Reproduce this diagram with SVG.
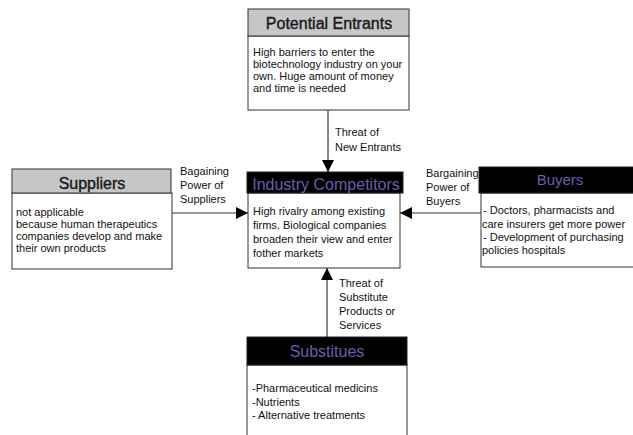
<svg xmlns="http://www.w3.org/2000/svg" width="633" height="435" viewBox="0 0 633 435">
<style>
text{font-family:"Liberation Sans",Arial,sans-serif;fill:#111}
.body{fill:#fff;stroke:#333;stroke-width:1}
.ghead{fill:#c6c6c6;stroke:#333;stroke-width:1}
.bhead{fill:#000;stroke:#222;stroke-width:1}
.gt{font-size:16px;fill:#1a1a1a;stroke:#1a1a1a;stroke-width:0.4;text-anchor:middle}
.bt{font-size:16px;fill:#6a5db0;text-anchor:middle}
.t{font-size:11px}
.lbl{font-size:11px}
.conn{stroke:#333;stroke-width:1.2;fill:none}
</style>
<defs>
<marker id="ah" viewBox="0 0 12 12" refX="12" refY="6" markerWidth="12" markerHeight="12" markerUnits="userSpaceOnUse" orient="auto">
<path d="M0,0 L12,6 L0,12 Z" fill="#000"/>
</marker>
</defs>
<rect width="633" height="435" fill="#fff"/>
<g id="connectors">
<line class="conn" x1="328" y1="110" x2="328" y2="172" marker-end="url(#ah)"/>
<line class="conn" x1="172" y1="213" x2="248" y2="213" marker-end="url(#ah)"/>
<line class="conn" x1="481" y1="213" x2="400" y2="213" marker-end="url(#ah)"/>
<line class="conn" x1="327" y1="337" x2="327" y2="268" marker-end="url(#ah)"/>
<text class="lbl" x="335" y="136">Threat of</text>
<text class="lbl" x="335" y="151">New Entrants</text>
<text class="lbl" x="180" y="175">Bagaining</text>
<text class="lbl" x="180" y="189">Power of</text>
<text class="lbl" x="180" y="203">Suppliers</text>
<text class="lbl" x="426" y="177">Bargaining</text>
<text class="lbl" x="426" y="191">Power of</text>
<text class="lbl" x="426" y="205">Buyers</text>
<text class="lbl" x="339" y="287">Threat of</text>
<text class="lbl" x="339" y="301">Substitute</text>
<text class="lbl" x="339" y="315">Products or</text>
<text class="lbl" x="339" y="329">Services</text>
</g>
<g id="potential-entrants">
<rect class="body" x="248" y="36" width="161" height="74"/>
<rect class="ghead" x="248" y="9" width="161" height="27"/>
<text class="gt" x="329" y="29">Potential Entrants</text>
<text class="t" x="253" y="56">High barriers to enter the</text>
<text class="t" x="253" y="68">biotechnology industry on your</text>
<text class="t" x="253" y="80">own. Huge amount of money</text>
<text class="t" x="253" y="92">and time is needed</text>
</g>
<g id="suppliers">
<rect class="body" x="12" y="193" width="160" height="76"/>
<rect class="ghead" x="12" y="169" width="159" height="24"/>
<text class="gt" x="92" y="189">Suppliers</text>
<text class="t" x="16" y="216">not applicable</text>
<text class="t" x="16" y="228">because human therapeutics</text>
<text class="t" x="16" y="240">companies develop and make</text>
<text class="t" x="16" y="252">their own products</text>
</g>
<g id="industry-competitors">
<rect class="body" x="248" y="193" width="152" height="75"/>
<rect class="bhead" x="247" y="172" width="156" height="21"/>
<text class="bt" x="326" y="190">Industry Competitors</text>
<text class="t" x="253" y="215">High rivalry among existing</text>
<text class="t" x="253" y="229">firms. Biological companies</text>
<text class="t" x="253" y="243">broaden their view and enter</text>
<text class="t" x="253" y="257">fother markets</text>
</g>
<g id="buyers">
<rect class="body" x="481" y="193" width="165" height="74"/>
<rect class="bhead" x="479" y="167" width="167" height="26"/>
<text class="bt" x="560" y="185" style="font-size:15px">Buyers</text>
<text class="t" x="483" y="214">- Doctors, pharmacists and</text>
<text class="t" x="482" y="228">care insurers get more power</text>
<text class="t" x="483" y="241">- Development of purchasing</text>
<text class="t" x="482" y="254">policies hospitals</text>
</g>
<g id="substitutes">
<rect class="body" x="247" y="365" width="160" height="80"/>
<rect class="bhead" x="247" y="337" width="160" height="28"/>
<text class="bt" x="327" y="357">Substitues</text>
<text class="t" x="252" y="392">-Pharmaceutical medicins</text>
<text class="t" x="252" y="406">-Nutrients</text>
<text class="t" x="252" y="419">- Alternative treatments</text>
</g>
</svg>
